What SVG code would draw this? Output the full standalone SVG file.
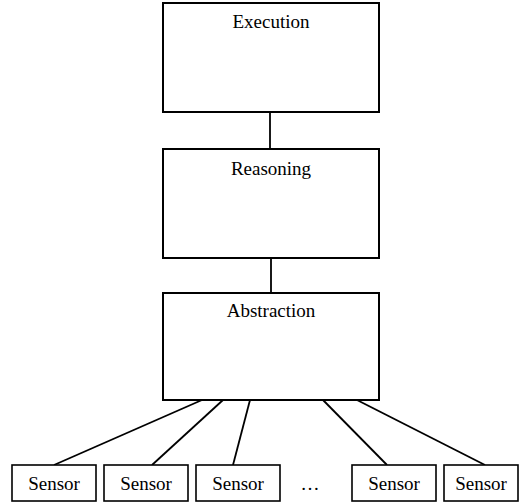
<svg xmlns="http://www.w3.org/2000/svg" width="521" height="503" viewBox="0 0 521 503">
  <style>
    .box { fill: #fff; stroke: #000; stroke-width: 2; }
    .sbox { fill: #fff; stroke: #000; stroke-width: 1.6; }
    .lbl { font-family: "Liberation Serif", "Times New Roman", serif; font-size: 19px; fill: #000; text-anchor: middle; }
    .link { stroke: #000; stroke-width: 1.8; fill: none; }
  </style>
  <rect width="521" height="503" fill="#fff"/>

  <g id="connectors">
    <line class="link" x1="270" y1="112" x2="270" y2="149"/>
    <line class="link" x1="271" y1="258" x2="271" y2="293"/>
    <line class="link" x1="202" y1="400" x2="54" y2="465"/>
    <line class="link" x1="223" y1="400" x2="152" y2="465"/>
    <line class="link" x1="250" y1="400" x2="233" y2="465"/>
    <line class="link" x1="323" y1="400" x2="387" y2="465"/>
    <line class="link" x1="357" y1="400" x2="485" y2="465"/>
  </g>

  <g id="execution">
    <rect class="box" x="163" y="3" width="216" height="109"/>
    <text class="lbl" x="271" y="28">Execution</text>
  </g>
  <g id="reasoning">
    <rect class="box" x="163" y="149" width="216" height="109"/>
    <text class="lbl" x="271" y="175">Reasoning</text>
  </g>
  <g id="abstraction">
    <rect class="box" x="163" y="293" width="216" height="107"/>
    <text class="lbl" x="271" y="317">Abstraction</text>
  </g>

  <g id="sensor1">
    <rect class="sbox" x="12" y="465" width="84" height="36"/>
    <text class="lbl" x="54" y="490">Sensor</text>
  </g>
  <g id="sensor2">
    <rect class="sbox" x="104" y="465" width="84" height="36"/>
    <text class="lbl" x="146" y="490">Sensor</text>
  </g>
  <g id="sensor3">
    <rect class="sbox" x="196" y="465" width="84" height="36"/>
    <text class="lbl" x="238" y="490">Sensor</text>
  </g>
  <g id="ellipsis">
    <text class="lbl" x="310" y="490">…</text>
  </g>
  <g id="sensor4">
    <rect class="sbox" x="352" y="465" width="84" height="36"/>
    <text class="lbl" x="394" y="490">Sensor</text>
  </g>
  <g id="sensor5">
    <rect class="sbox" x="444" y="465" width="74" height="36"/>
    <text class="lbl" x="481" y="490">Sensor</text>
  </g>
</svg>
